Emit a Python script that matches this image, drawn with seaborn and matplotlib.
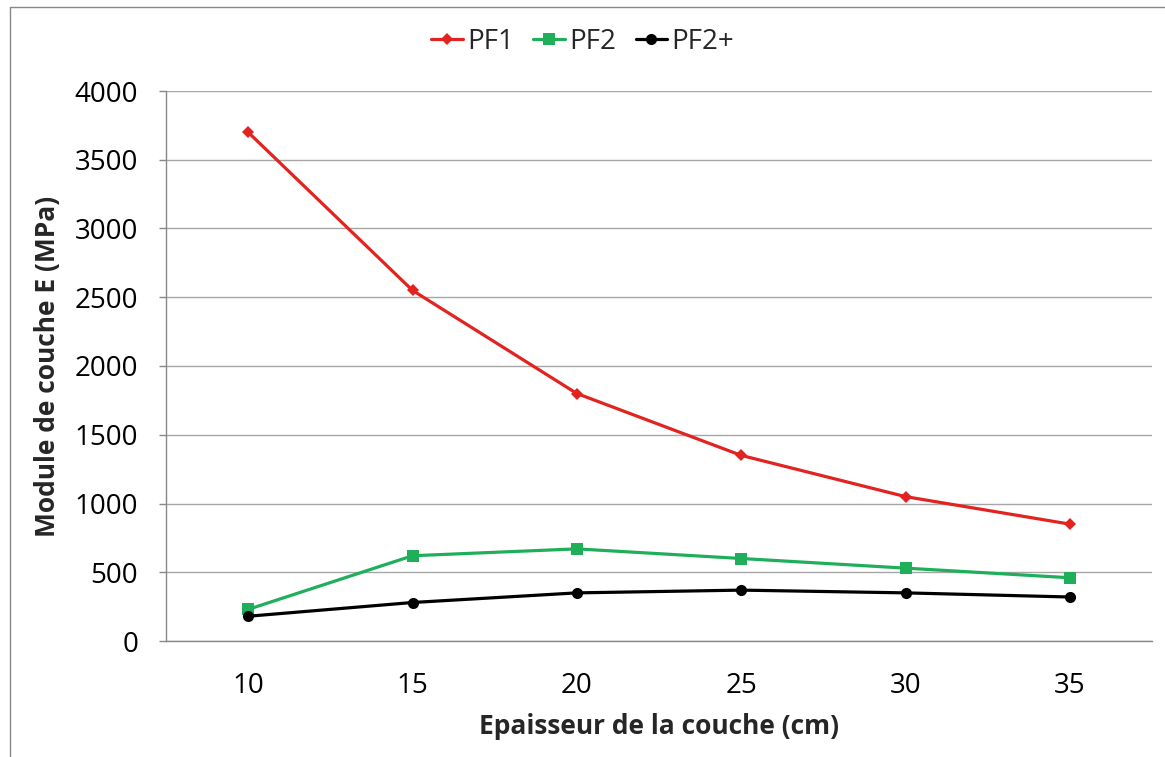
import matplotlib
matplotlib.use("Agg")
import matplotlib.pyplot as plt
import seaborn as sns
import pandas as pd
import numpy as np
from matplotlib.lines import Line2D
from matplotlib.ticker import MultipleLocator, FixedLocator

thickness = [10, 15, 20, 25, 30, 35]
pf1 = [3700, 2550, 1800, 1350, 1050, 850]
pf2 = [230, 620, 670, 600, 530, 460]
pf2p = [180, 280, 350, 370, 350, 320]
series_names = ["PF1", "PF2", "PF2+"]

df = pd.concat([
    pd.DataFrame({"x": thickness, "y": pf1, "s": "PF1"}),
    pd.DataFrame({"x": thickness, "y": pf2, "s": "PF2"}),
    pd.DataFrame({"x": thickness, "y": pf2p, "s": "PF2+"}),
])

sns.set_theme(style="white")
plt.rcParams['font.family'] = ['Open Sans', 'DejaVu Sans']

fig = plt.figure(figsize=(11.65, 7.57), dpi=100)
ax = fig.add_axes([166/1165, 1-641/757, (1152-166)/1165, (641-91)/757])

palette = {"PF1": "#E2231F", "PF2": "#1FAF5B", "PF2+": "#000000"}
markers = {"PF1": "D", "PF2": "s", "PF2+": "o"}
sizes = {"PF1": 6, "PF2": 8, "PF2+": 8}

sns.lineplot(data=df, x="x", y="y", hue="s", style="s", palette=palette,
             markers=markers, dashes=False, linewidth=2.3, markersize=8,
             markeredgewidth=0, ax=ax, legend=False)
for line, name in zip(ax.get_lines(), series_names):
    line.set_markersize(sizes[name])

ax.set_xlim(7.5, 37.5)
ax.set_ylim(0, 4000)
ax.yaxis.set_major_locator(MultipleLocator(500))
ax.set_xticks(thickness)
ax.set_xticklabels([str(t) for t in thickness])
ax.xaxis.set_minor_locator(FixedLocator([7.5, 12.5, 17.5, 22.5, 27.5, 32.5, 37.5]))
ax.tick_params(axis="x", which="major", length=0, labelsize=20, pad=22, colors="black")
ax.tick_params(axis="x", which="minor", length=8, width=1, color="#888888", direction="out")
ax.tick_params(axis="y", which="major", length=5, width=1, color="#888888", labelsize=20,
               labelcolor="black", pad=15, left=True)
ax.grid(axis="y", color="#A6A6A6", linewidth=1)
ax.set_axisbelow(True)
for side in ["top", "right"]:
    ax.spines[side].set_visible(False)
for side in ["left", "bottom"]:
    ax.spines[side].set_color("#888888")
    ax.spines[side].set_linewidth(1)

ax.set_xlabel("Epaisseur de la couche (cm)", fontsize=19, fontweight="bold", labelpad=10)
ax.set_ylabel("Module de couche E (MPa)", fontsize=19, fontweight="bold", labelpad=10)

handles = [Line2D([0], [0], color=palette[n], marker=markers[n], markersize=sizes[n],
                  markeredgewidth=0, linewidth=2.3) for n in series_names]
fig.legend(handles, series_names, loc="center", bbox_to_anchor=(0.5, 1-42/757), ncol=3,
           frameon=False, fontsize=20, handlelength=1.15, handletextpad=0.15,
           columnspacing=0.7)

fig.add_artist(Line2D([10/1165, 10/1165], [0, 1-7/757], color="#888888", linewidth=1,
                      transform=fig.transFigure))
fig.add_artist(Line2D([10/1165, 1], [1-7/757, 1-7/757], color="#888888", linewidth=1,
                      transform=fig.transFigure))

fig.savefig("out.png", dpi=100)
